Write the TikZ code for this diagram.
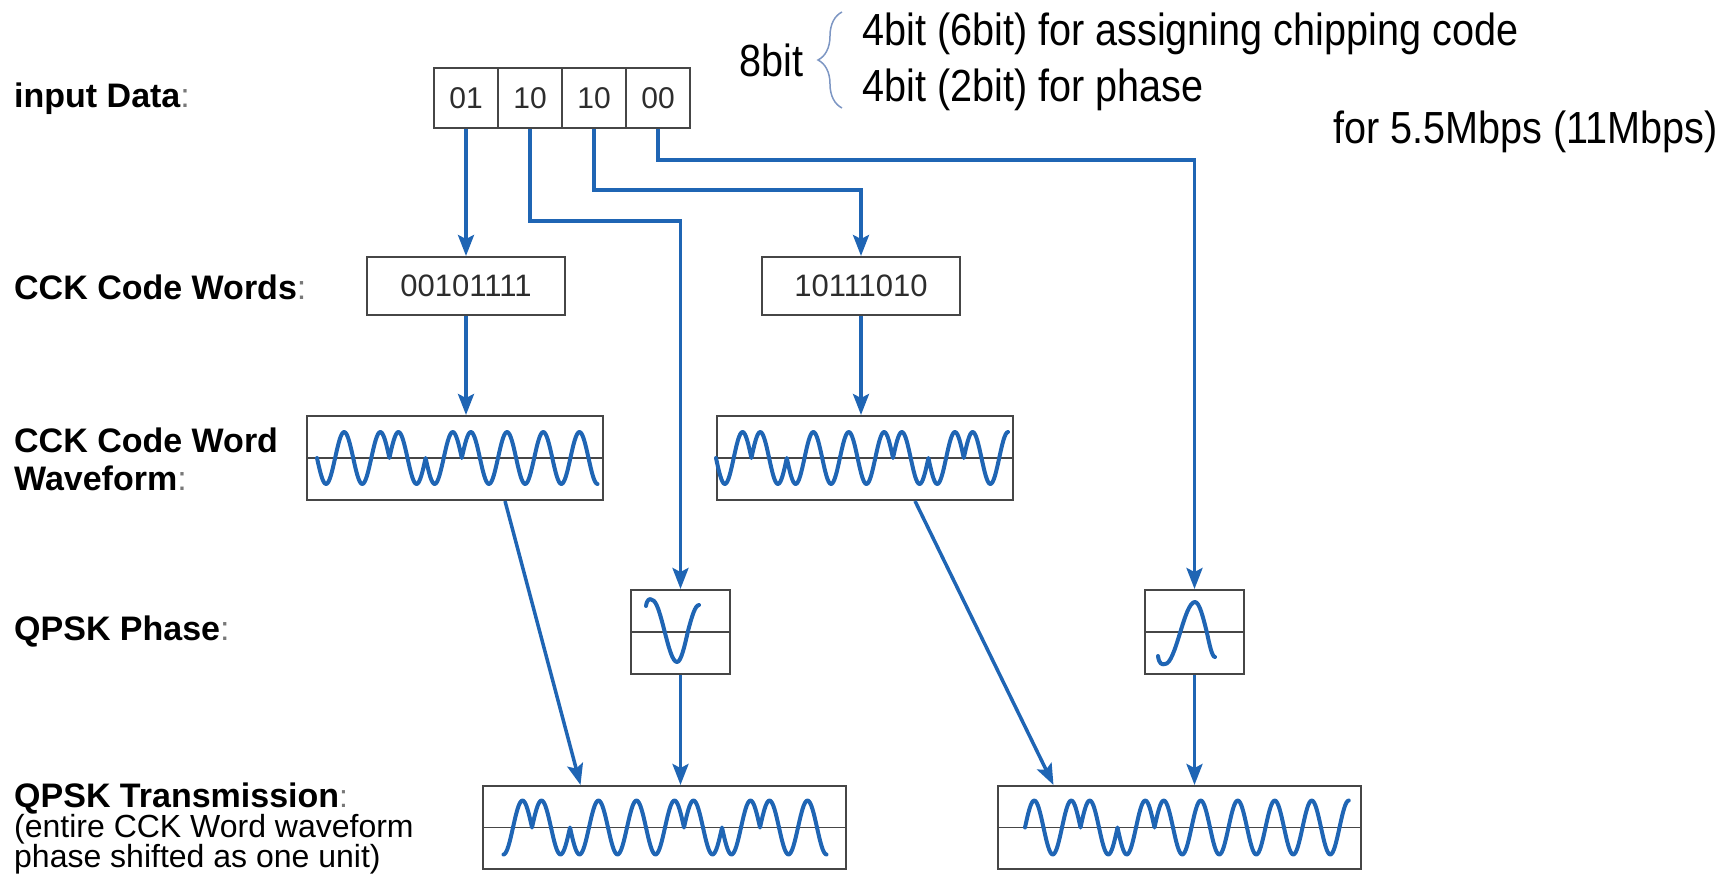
\documentclass[tikz,border=0pt]{standalone}
\usepackage{fontspec}
\setmainfont{Liberation Sans}
\newfontfamily\notefont[FakeStretch=0.88]{Liberation Sans}
\usetikzlibrary{arrows.meta,calc,decorations.pathreplacing,positioning}
\definecolor{flowBlue}{RGB}{31,101,180}
\definecolor{boxGray}{RGB}{70,70,70}
\definecolor{braceBlue}{RGB}{125,150,195}
\definecolor{colonGray}{RGB}{120,120,120}
\definecolor{digitGray}{RGB}{45,45,45}
\newcommand{\lblcolon}{\textcolor{colonGray}{\mdseries :}}

\begin{document}
\begin{tikzpicture}[x=1pt,y=-1pt,
    lbl/.style={anchor=west,inner sep=0pt,align=left,font=\fontsize{34}{38}\selectfont\bfseries},
    cell/.style={draw=boxGray,line width=2pt,minimum width=64pt,minimum height=60pt,inner sep=0pt,font=\fontsize{30}{30}\selectfont,text=digitGray},
    codebox/.style={draw=boxGray,line width=2pt,minimum width=198pt,minimum height=58pt,inner sep=0pt,font=\fontsize{31}{31}\selectfont,text=digitGray},
    wavebox/.style={draw=boxGray,line width=2pt,minimum width=296pt,minimum height=84pt,inner sep=0pt},
    phasebox/.style={draw=boxGray,line width=2pt,minimum width=99pt,minimum height=84pt,inner sep=0pt},
    txbox/.style={draw=boxGray,line width=2pt,minimum width=363pt,minimum height=83pt,inner sep=0pt},
    note/.style={inner sep=0pt,font=\notefont\fontsize{45}{48}\selectfont},
    flow/.style={draw=flowBlue,line width=3.5pt,-{Stealth[length=21pt,width=16pt,inset=4pt]}},
    wave/.style={draw=flowBlue,line width=4pt,line join=round,line cap=round},
    midline/.style={draw=boxGray,line width=1.5pt}]

  \useasboundingbox (0,0) rectangle (1730,888);

  % row labels
  \node[lbl] (lData) at (14,99) {input Data\lblcolon};
  \node[lbl] (lWords) at (14,287) {CCK Code Words\lblcolon};
  \node[lbl] (lWave) at (14,459) {CCK Code Word\\Waveform\lblcolon};
  \node[lbl] (lPhase) at (14,632) {QPSK Phase\lblcolon};
  \node[lbl,font=\fontsize{32}{30}\selectfont] (lTx) at (14,828)
    {{\fontsize{34}{30}\selectfont\bfseries QPSK Transmission}\lblcolon\\(entire CCK Word waveform\\phase shifted as one unit)};

  % the input bits
  \def\bits{01,10,10,00}
  \foreach \b [count=\bi] in \bits
    \node[cell] (c\bi) at ({434+64*\bi-32},98) {\b};

  % notes on the bits
  \node[note,anchor=east] (nBits) at (804,60) {8bit};
  \node[note,anchor=west] (nCode) at (862,34) {4bit (6bit) for assigning chipping code};
  \node[note,anchor=west] (nPhase) at (862,90) {4bit (2bit) for phase};
  \node[note,anchor=east] (nRate) at (1718,132) {for 5.5Mbps (11Mbps)};
  \coordinate (bLow) at (842,108);
  \coordinate (bHigh) at (842,12);
  \draw[braceBlue,line width=1.5pt,decorate,decoration={brace,amplitude=24pt}] (bLow) -- (bHigh);

  % the boxes
  \node[codebox] (cw1) at (466,286) {00101111};
  \node[codebox] (cw2) at (861,286) {10111010};
  \node[wavebox] (wf1) at (455,458) {};
  \node[wavebox] (wf2) at (865,458) {};
  \node[phasebox] (ph1) at (680.5,632) {};
  \node[phasebox] (ph2) at (1194.5,632) {};
  \node[txbox] (tx1) at (664.5,827.5) {};
  \node[txbox] (tx2) at (1179.5,827.5) {};
  \foreach \m in {wf1,wf2,ph1,ph2,tx1,tx2}
    \draw[midline] (\m.west) -- (\m.east);

  % draw the waveforms
  \def\waveA{-1,1,-1,1,1,-1,-1,1,1,-1,1,-1,1,-1,1}
  \def\waveB{-1,1,1,-1,-1,1,-1,1,-1,1,1,-1,-1,1,1,-1}
  \def\waveC{1,1,-1,-1,1,-1,1,-1,1,1,-1,-1,1,1,-1,1}
  \def\waveD{1,-1,1,1,-1,-1,1,1,-1,1,-1,1,-1,1,-1,1,-1}
  \draw[wave] (317,458) \foreach \s in \waveA {sin ++(9.05,{-26*(\s)}) cos ++(9.05,{26*(\s)})} sin ++(9.05,26);
  \draw[wave] (716,458) \foreach \s in \waveB {sin ++(8.85,{-26*(\s)}) cos ++(8.85,{26*(\s)})} sin ++(8.85,-26);
  \draw[wave] (503.5,854.5) cos ++(9.5,-27) \foreach \s in \waveC {sin ++(9.5,{-27*(\s)}) cos ++(9.5,{27*(\s)})} sin ++(9.5,27);
  \draw[wave] (1025,827.5) \foreach \s in \waveD {sin ++(9.25,{-27*(\s)}) cos ++(9.25,{27*(\s)})} sin ++(9.25,-27);

  % the phase symbols
  \draw[wave] (646,606) .. controls (647,599) and (650,598) .. (652,600) cos ++(12.5,31) sin ++(12.5,31) cos ++(11,-31) sin ++(11,-26);
  \draw[wave] (1158,656) .. controls (1159,664) and (1162,665) .. (1165,664) cos ++(15,-31) sin ++(15,-31) cos ++(12,31) sin ++(8,24);

  % connect everything
  \draw[flow] (c1.south) -- (cw1.north);
  \draw[flow] (c2.south) -- ++(0,92) -| (ph1.north);
  \draw[flow] (c3.south) -- ++(0,61) -| (cw2.north);
  \draw[flow] (c4.south) -- ++(0,31) -| (ph2.north);
  \draw[flow] (cw1.south) -- (cw1.south |- wf1.north);
  \draw[flow] (cw2.south) -- (cw2.south |- wf2.north);
  \draw[flow] ([xshift=50pt]wf1.south) -- ([xshift=-84pt]tx1.north);
  \draw[flow] ([xshift=50pt]wf2.south) -- ([xshift=-126pt]tx2.north);
  \draw[flow] (ph1.south) -- (ph1.south |- tx1.north);
  \draw[flow] (ph2.south) -- (ph2.south |- tx2.north);

\end{tikzpicture}
\end{document}
